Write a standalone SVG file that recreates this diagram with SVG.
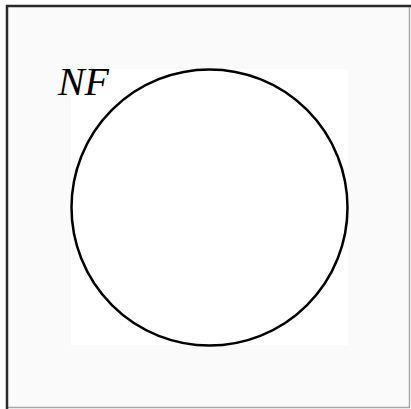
<svg xmlns="http://www.w3.org/2000/svg" width="411" height="409" viewBox="0 0 411 409">
<style>
.lbl{font-family:"Liberation Serif","Times New Roman",serif;font-style:italic;font-size:39px;fill:#000}
</style>
<rect x="0" y="0" width="411" height="409" fill="#ffffff"/>
<g id="frame">
<rect x="7" y="6" width="403" height="402" fill="#fafafa"/>
<line x1="409.5" y1="6" x2="409.5" y2="408" stroke="#a8a8a8" stroke-width="1.5"/>
<line x1="7" y1="407.5" x2="410" y2="407.5" stroke="#a8a8a8" stroke-width="1.5"/>
<line x1="6" y1="6" x2="411" y2="6" stroke="#2a2a2a" stroke-width="2.5"/>
<line x1="7" y1="5" x2="7" y2="409" stroke="#2a2a2a" stroke-width="2.5"/>
</g>
<g id="NF">
<rect x="71" y="69" width="277" height="276" fill="#ffffff"/>
<circle cx="209.5" cy="207.5" r="138" fill="none" stroke="#000" stroke-width="2.5"/>
<text class="lbl" x="58" y="95" textLength="51" lengthAdjust="spacingAndGlyphs">NF</text>
</g>
</svg>
